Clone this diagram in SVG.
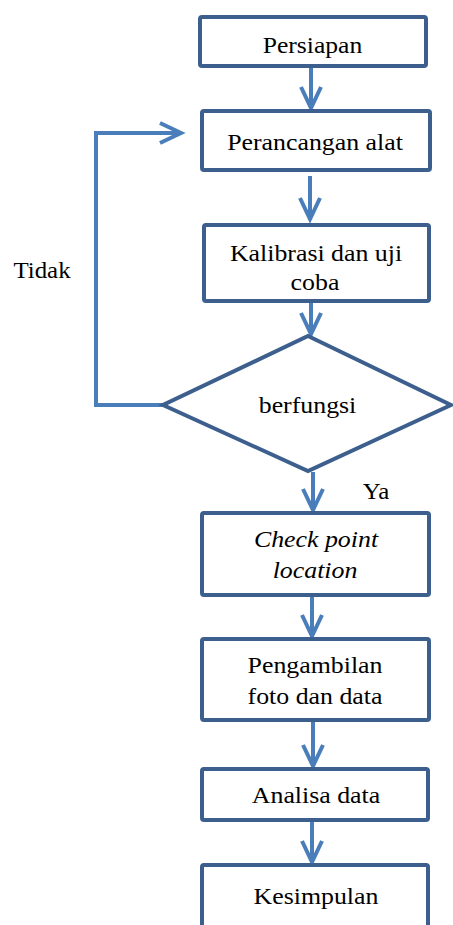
<svg xmlns="http://www.w3.org/2000/svg" width="453" height="925" viewBox="0 0 453 925">
<style>
.box{fill:#fff;stroke:#3c5f8e;stroke-width:4;}
.dia{fill:#fff;stroke:#3c5f8e;stroke-width:4;stroke-linejoin:miter;}
.con{fill:none;stroke:#4a7ebb;stroke-width:4;}
.t{font-family:'Liberation Serif','Times New Roman',Times,serif;font-size:23.5px;fill:#000;text-anchor:middle;}
.i{font-style:italic;}
</style>
<defs>
<marker id="ah" markerUnits="userSpaceOnUse" viewBox="-26 -14 30 28" markerWidth="30" markerHeight="28" refX="0" refY="0" orient="auto" overflow="visible">
<path d="M-21,-10 L0,0 L-21,10" fill="none" stroke="#4a7ebb" stroke-width="4" stroke-linejoin="miter"/>
</marker>
</defs>
<g id="connectors">
<line class="con" x1="311" y1="68" x2="311" y2="108" marker-end="url(#ah)"/>
<line class="con" x1="310" y1="176" x2="310" y2="219" marker-end="url(#ah)"/>
<line class="con" x1="311" y1="303" x2="311" y2="334" marker-end="url(#ah)"/>
<polyline class="con" points="163,405 96,405 96,133 181,133" marker-end="url(#ah)"/>
<line class="con" x1="313" y1="472" x2="313" y2="510" marker-end="url(#ah)"/>
<line class="con" x1="312" y1="597" x2="312" y2="636" marker-end="url(#ah)"/>
<line class="con" x1="313" y1="722" x2="313" y2="766" marker-end="url(#ah)"/>
<line class="con" x1="312" y1="822" x2="312" y2="862" marker-end="url(#ah)"/>
<text class="t" transform="translate(42,278) scale(1.06,1)">Tidak</text>
<text class="t" transform="translate(376,499) scale(1.06,1)">Ya</text>
</g>
<g id="persiapan">
<rect class="box" x="200" y="17" width="226" height="49" rx="2"/>
<text class="t" transform="translate(312.5,53) scale(1.09,1)">Persiapan</text>
</g>
<g id="perancangan">
<rect class="box" x="202" y="111" width="228" height="59" rx="2"/>
<text class="t" transform="translate(315,150) scale(1.1,1)">Perancangan alat</text>
</g>
<g id="kalibrasi">
<rect class="box" x="204" y="225" width="225" height="76" rx="2"/>
<text class="t" transform="translate(316,261) scale(1.1,1)">Kalibrasi dan uji</text>
<text class="t" transform="translate(315,290) scale(1.1,1)">coba</text>
</g>
<g id="berfungsi">
<polygon class="dia" points="308,336 451,405 308,471 163,405"/>
<text class="t" transform="translate(307.5,413) scale(1.1,1)">berfungsi</text>
</g>
<g id="checkpoint">
<rect class="box" x="202" y="513" width="227" height="82" rx="2"/>
<text class="t i" transform="translate(316,547) scale(1.1,1)">Check point</text>
<text class="t i" transform="translate(315,578) scale(1.1,1)">location</text>
</g>
<g id="pengambilan">
<rect class="box" x="202" y="639" width="227" height="81" rx="2"/>
<text class="t" transform="translate(315,673) scale(1.1,1)">Pengambilan</text>
<text class="t" transform="translate(315,704) scale(1.1,1)">foto dan data</text>
</g>
<g id="analisa">
<rect class="box" x="202" y="769" width="226" height="51" rx="2"/>
<text class="t" transform="translate(316,803) scale(1.1,1)">Analisa data</text>
</g>
<g id="kesimpulan">
<rect class="box" x="202" y="865" width="226" height="70" rx="2"/>
<text class="t" transform="translate(316,904) scale(1.1,1)">Kesimpulan</text>
</g>
</svg>
